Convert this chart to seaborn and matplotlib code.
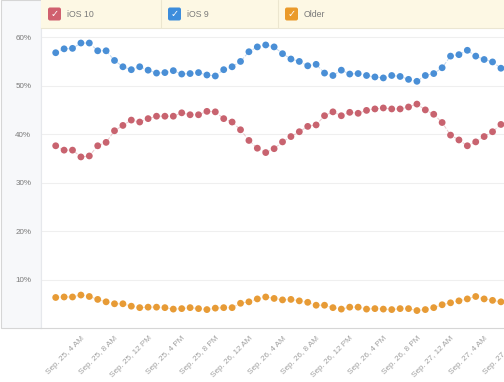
import numpy as np
import pandas as pd
import matplotlib
matplotlib.use("Agg")
import matplotlib.pyplot as plt
import seaborn as sns
from matplotlib.patches import Rectangle, FancyBboxPatch

# share of devices per hour, starting Sep. 25, 1 AM
series = ["iOS 10", "iOS 9", "Older"]
colors = ["#c8636f", "#4a8fd6", "#e79b36"]
box_colors = ["#d0606e", "#3d8ddc", "#ea9a2a"]

ios10 = [37.6, 36.7, 36.7, 35.3, 35.5, 37.6, 38.3, 40.7, 41.8, 42.9, 42.5, 43.2,
         43.7, 43.7, 43.7, 44.4, 44.0, 44.0, 44.7, 44.6, 43.2, 42.5, 40.9, 38.7,
         37.1, 36.2, 37.0, 38.4, 39.5, 40.5, 41.6, 41.9, 43.8, 44.6, 43.8, 44.5,
         44.3, 44.9, 45.2, 45.4, 45.2, 45.2, 45.6, 46.2, 45.0, 44.1, 42.4, 39.8,
         38.8, 37.6, 38.4, 39.5, 40.5, 42.0]
ios9 = [56.8, 57.6, 57.7, 58.8, 58.8, 57.2, 57.2, 55.2, 53.9, 53.3, 53.9, 53.2,
        52.6, 52.7, 53.1, 52.4, 52.5, 52.7, 52.2, 52.0, 53.3, 53.9, 55.0, 57.0,
        58.0, 58.4, 58.0, 56.6, 55.5, 55.0, 54.1, 54.4, 52.6, 52.1, 53.2, 52.4,
        52.5, 52.1, 51.8, 51.6, 52.1, 51.9, 51.3, 50.9, 52.1, 52.5, 53.7, 56.1,
        56.4, 57.3, 56.1, 55.4, 54.9, 53.6]
older = [6.3, 6.4, 6.4, 6.8, 6.5, 5.9, 5.4, 5.0, 5.0, 4.5, 4.2, 4.3,
         4.3, 4.2, 3.9, 4.0, 4.2, 4.0, 3.8, 4.1, 4.2, 4.2, 5.1, 5.4,
         6.0, 6.4, 6.1, 5.8, 5.9, 5.6, 5.3, 4.7, 4.7, 4.2, 3.9, 4.3,
         4.3, 3.9, 4.0, 3.9, 3.8, 4.0, 4.0, 3.6, 3.8, 4.2, 4.8, 5.2,
         5.6, 6.0, 6.5, 6.0, 5.7, 5.4]
hours = list(range(len(ios10)))

tick_hours = [3, 7, 11, 15, 19, 23, 27, 31, 35, 39, 43, 47, 51, 55]
tick_labels = ["Sep. 25, 4 AM", "Sep. 25, 8 AM", "Sep. 25, 12 PM", "Sep. 25, 4 PM",
               "Sep. 25, 8 PM", "Sep. 26, 12 AM", "Sep. 26, 4 AM", "Sep. 26, 8 AM",
               "Sep. 26, 12 PM", "Sep. 26, 4 PM", "Sep. 26, 8 PM", "Sep. 27, 12 AM",
               "Sep. 27, 4 AM", "Sep. 27, 8 AM"]
y_ticks = [10, 20, 30, 40, 50, 60]

df = pd.DataFrame({
    "hour": hours * 3,
    "share": ios10 + ios9 + older,
    "os": [s for s in series for _ in hours],
})

sns.set_style("white")
plt.rcParams["font.family"] = ["Liberation Sans", "DejaVu Sans"]

W, H = 504, 382
fig = plt.figure(figsize=(W / 100, H / 100), dpi=100)
fig.patch.set_facecolor("white")


def box(x0, y0, x1, y1):
    return [x0 / W, 1 - y1 / H, (x1 - x0) / W, (y1 - y0) / H]


# left label panel
fig.patches.append(Rectangle((1 / W, 1 - 328 / H), 40 / W, 328 / H,
                             transform=fig.transFigure, fc="#f7f8fa",
                             ec="#d6d6d6", lw=0.8, zorder=-5))

# main plot (runs past the right edge, like the cropped screenshot)
ax = fig.add_axes(box(41, 28, 530, 328))
ax.set_facecolor("white")
pal = dict(zip(series, colors))
sns.lineplot(data=df, x="hour", y="share", hue="os", palette=pal,
             linewidth=0.7, alpha=0.35, linestyle="--", legend=False, ax=ax)
sns.scatterplot(data=df, x="hour", y="share", hue="os", palette=pal,
                s=24, linewidth=0, legend=False, ax=ax, zorder=3)

ax.set_xlim(-1.75, 56.46)
ax.set_ylim(0, 61.9)
ax.set_yticks(y_ticks, [f"{v}%" for v in y_ticks])
ax.set_xticks(tick_hours, tick_labels)
plt.setp(ax.get_xticklabels(), rotation=45, ha="right", rotation_mode="anchor")
ax.tick_params(axis="x", length=0, pad=5, labelsize=5.9, labelcolor="#a0a0a0")
ax.tick_params(axis="y", length=0, pad=7, labelsize=5.8, labelcolor="#7a7a7a",
               labelleft=True)
ax.set_xlabel("")
ax.set_ylabel("")
ax.grid(axis="y", color="#efefef", linewidth=0.8)
ax.grid(axis="x", visible=False)
for side in ["top", "right"]:
    ax.spines[side].set_visible(False)
ax.spines["bottom"].set_color("#d6d6d6")
ax.spines["bottom"].set_linewidth(0.8)
ax.spines["left"].set_color("#e6e8ec")
ax.spines["left"].set_linewidth(0.8)

# legend bar
lax = fig.add_axes(box(41, 0, 504, 28))
lax.set_facecolor("#fdf8e4")
lax.set_xlim(41, 504)
lax.set_ylim(28, 0)
lax.set_xticks([])
lax.set_yticks([])
for side in ["top", "right", "left"]:
    lax.spines[side].set_visible(False)
lax.spines["bottom"].set_color("#ebe6d2")
lax.spines["bottom"].set_linewidth(0.8)
for sep in [161, 278]:
    lax.axvline(sep, color="#ece6cf", lw=0.8)
item_x = [48, 168, 285]
for x0, name, c in zip(item_x, series, box_colors):
    lax.add_patch(FancyBboxPatch((x0, 7.5), 13, 13,
                                 boxstyle="round,pad=0,rounding_size=2",
                                 fc=c, ec="none"))
    lax.text(x0 + 6.5, 14.5, "\u2713", color="white", fontsize=7,
             fontweight="bold", ha="center", va="center", family="DejaVu Sans")
    lax.text(x0 + 19, 14.5, name, color="#7a7a7a", fontsize=6.3,
             ha="left", va="center")

fig.savefig("out.png", dpi=100)
